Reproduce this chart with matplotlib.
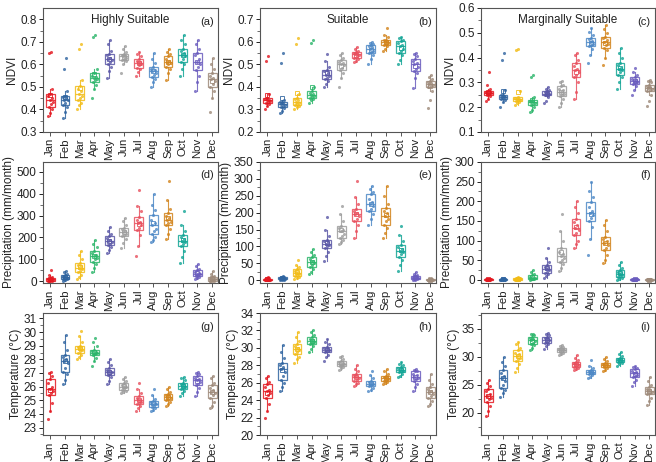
import numpy as np
import matplotlib
matplotlib.use("Agg")
import matplotlib.pyplot as plt

plt.rcParams['font.family'] = ['Liberation Sans', 'DejaVu Sans']

months = ['Jan', 'Feb', 'Mar', 'Apr', 'May', 'Jun', 'Jul', 'Aug', 'Sep', 'Oct', 'Nov', 'Dec']
colors = ['#e3171f', '#2f64a0', '#f2bc16', '#2bb56a', '#5a57a6', '#9d9d9d',
          '#e8505e', '#4d88c6', '#d2841c', '#13a596', '#6a5cbe', '#9e8a7a']

titles = ['Highly Suitable', 'Suitable', 'Marginally Suitable']
letters = ['(a)', '(b)', '(c)', '(d)', '(e)', '(f)', '(g)', '(h)', '(i)']
ylabels = ['NDVI', 'NDVI', 'NDVI',
           'Precipitation (mm/month)', 'Precipitation (m/month)', 'Precipitation (mm/month)',
           'Temperature (°C)', 'Temperature (°C)', 'Temperature (°C)']

ndvi_hs = [
    [0.37, 0.385, 0.40, 0.41, 0.425, 0.435, 0.44, 0.45, 0.46, 0.47, 0.49, 0.65, 0.655],
    [0.36, 0.39, 0.41, 0.42, 0.43, 0.44, 0.44, 0.45, 0.455, 0.46, 0.48, 0.58, 0.63],
    [0.40, 0.42, 0.43, 0.44, 0.45, 0.46, 0.47, 0.48, 0.49, 0.505, 0.53, 0.67, 0.69],
    [0.45, 0.49, 0.51, 0.52, 0.53, 0.535, 0.54, 0.545, 0.55, 0.56, 0.58, 0.72, 0.73],
    [0.54, 0.57, 0.59, 0.60, 0.61, 0.62, 0.625, 0.63, 0.64, 0.645, 0.66, 0.69, 0.71],
    [0.56, 0.60, 0.615, 0.62, 0.625, 0.63, 0.635, 0.638, 0.64, 0.645, 0.655, 0.67, 0.68],
    [0.55, 0.565, 0.58, 0.585, 0.595, 0.60, 0.605, 0.61, 0.615, 0.625, 0.635, 0.645, 0.655],
    [0.50, 0.52, 0.535, 0.545, 0.555, 0.56, 0.57, 0.575, 0.58, 0.59, 0.605, 0.625, 0.65],
    [0.53, 0.56, 0.58, 0.59, 0.60, 0.605, 0.61, 0.615, 0.625, 0.635, 0.645, 0.655, 0.67],
    [0.55, 0.58, 0.60, 0.61, 0.625, 0.635, 0.64, 0.65, 0.66, 0.67, 0.69, 0.71, 0.73],
    [0.48, 0.52, 0.55, 0.575, 0.59, 0.60, 0.61, 0.625, 0.64, 0.65, 0.67, 0.69, 0.71],
    [0.39, 0.45, 0.48, 0.50, 0.515, 0.525, 0.535, 0.54, 0.55, 0.56, 0.58, 0.60, 0.63],
]
ndvi_s = [
    [0.30, 0.315, 0.325, 0.33, 0.335, 0.338, 0.34, 0.343, 0.347, 0.35, 0.37, 0.515, 0.535],
    [0.285, 0.295, 0.305, 0.31, 0.315, 0.32, 0.325, 0.328, 0.332, 0.335, 0.34, 0.505, 0.55],
    [0.30, 0.31, 0.315, 0.32, 0.325, 0.33, 0.335, 0.34, 0.345, 0.35, 0.37, 0.59, 0.615],
    [0.33, 0.34, 0.345, 0.35, 0.355, 0.36, 0.365, 0.37, 0.375, 0.38, 0.40, 0.595, 0.61],
    [0.40, 0.415, 0.425, 0.435, 0.44, 0.45, 0.455, 0.46, 0.47, 0.475, 0.49, 0.515, 0.545],
    [0.40, 0.44, 0.46, 0.475, 0.485, 0.495, 0.50, 0.505, 0.51, 0.52, 0.53, 0.54, 0.55],
    [0.51, 0.515, 0.525, 0.53, 0.535, 0.54, 0.545, 0.548, 0.55, 0.555, 0.56, 0.57, 0.575],
    [0.50, 0.525, 0.54, 0.55, 0.555, 0.56, 0.57, 0.575, 0.58, 0.585, 0.59, 0.595, 0.60],
    [0.56, 0.57, 0.58, 0.585, 0.59, 0.595, 0.60, 0.603, 0.607, 0.61, 0.62, 0.63, 0.66],
    [0.50, 0.52, 0.54, 0.55, 0.56, 0.57, 0.58, 0.585, 0.595, 0.605, 0.61, 0.615, 0.62],
    [0.395, 0.44, 0.46, 0.47, 0.48, 0.49, 0.50, 0.505, 0.515, 0.525, 0.535, 0.545, 0.55],
    [0.305, 0.34, 0.38, 0.40, 0.405, 0.41, 0.415, 0.418, 0.42, 0.425, 0.435, 0.445, 0.455],
]
ndvi_ms = [
    [0.225, 0.235, 0.245, 0.25, 0.253, 0.256, 0.258, 0.26, 0.263, 0.265, 0.275, 0.29, 0.34],
    [0.20, 0.22, 0.23, 0.235, 0.238, 0.24, 0.243, 0.245, 0.248, 0.25, 0.27, 0.39, 0.42],
    [0.21, 0.215, 0.22, 0.225, 0.228, 0.23, 0.233, 0.235, 0.238, 0.24, 0.265, 0.43, 0.435],
    [0.18, 0.19, 0.20, 0.21, 0.213, 0.217, 0.22, 0.223, 0.227, 0.23, 0.24, 0.32, 0.33],
    [0.215, 0.225, 0.24, 0.25, 0.252, 0.254, 0.255, 0.258, 0.262, 0.265, 0.27, 0.275, 0.28],
    [0.20, 0.215, 0.235, 0.245, 0.25, 0.255, 0.262, 0.268, 0.275, 0.285, 0.29, 0.30, 0.305],
    [0.235, 0.26, 0.30, 0.32, 0.33, 0.34, 0.35, 0.355, 0.365, 0.38, 0.39, 0.41, 0.42],
    [0.38, 0.41, 0.435, 0.445, 0.45, 0.455, 0.463, 0.468, 0.475, 0.48, 0.49, 0.505, 0.52],
    [0.37, 0.40, 0.43, 0.44, 0.45, 0.455, 0.462, 0.47, 0.478, 0.485, 0.50, 0.515, 0.53],
    [0.275, 0.30, 0.32, 0.33, 0.34, 0.35, 0.355, 0.36, 0.37, 0.38, 0.40, 0.42, 0.44],
    [0.25, 0.27, 0.285, 0.295, 0.30, 0.303, 0.307, 0.31, 0.315, 0.32, 0.33, 0.34, 0.36],
    [0.205, 0.225, 0.25, 0.265, 0.27, 0.275, 0.278, 0.28, 0.285, 0.29, 0.30, 0.305, 0.31],
]
prec_hs = [
    [0, 1, 2, 2, 4, 6, 8, 10, 12, 15, 20, 30, 50],
    [0, 4, 8, 10, 13, 16, 18, 20, 24, 28, 33, 40, 48],
    [10, 20, 30, 40, 48, 55, 60, 68, 75, 85, 100, 120, 140],
    [40, 60, 80, 90, 100, 108, 115, 122, 130, 140, 155, 170, 190],
    [130, 145, 155, 165, 172, 178, 185, 190, 198, 205, 215, 230, 250],
    [150, 175, 195, 205, 212, 218, 225, 230, 238, 245, 258, 275, 290],
    [115, 160, 210, 235, 245, 255, 265, 272, 280, 295, 320, 345, 415],
    [180, 190, 200, 215, 228, 240, 255, 265, 280, 305, 325, 350, 400],
    [195, 215, 240, 255, 265, 272, 280, 288, 298, 310, 330, 370, 460],
    [85, 110, 140, 160, 170, 178, 185, 192, 200, 210, 230, 255, 320],
    [10, 15, 20, 25, 28, 32, 35, 38, 42, 50, 58, 68, 80],
    [0, 1, 2, 2, 5, 8, 10, 12, 15, 20, 25, 35, 45],
]
prec_s = [
    [0, 0, 0, 0, 1, 1, 2, 2, 3, 5, 6, 8, 10],
    [0, 1, 2, 3, 4, 5, 6, 7, 8, 9, 10, 11, 12],
    [5, 8, 10, 14, 17, 20, 22, 25, 28, 32, 38, 45, 60],
    [18, 25, 32, 38, 45, 50, 55, 58, 62, 68, 75, 85, 92],
    [58, 72, 85, 95, 100, 104, 108, 112, 116, 120, 130, 150, 188],
    [108, 112, 118, 125, 132, 138, 145, 150, 155, 160, 175, 195, 220],
    [125, 145, 165, 175, 182, 190, 195, 200, 205, 212, 225, 245, 295],
    [165, 180, 195, 205, 212, 220, 225, 232, 242, 255, 262, 270, 278],
    [125, 140, 155, 165, 175, 182, 190, 198, 205, 215, 225, 250, 280],
    [28, 45, 60, 70, 78, 83, 88, 92, 98, 105, 115, 135, 162],
    [0, 2, 3, 4, 6, 7, 8, 9, 10, 12, 15, 19, 24],
    [0, 0, 0, 0, 0, 1, 1, 2, 2, 3, 4, 6, 8],
]
prec_ms = [
    [0, 0, 0, 0, 0, 1, 1, 1, 1, 2, 2, 3, 3],
    [0, 0, 0, 0, 1, 1, 1, 2, 2, 3, 3, 4, 5],
    [0, 0, 0, 0, 1, 1, 2, 2, 3, 4, 5, 6, 7],
    [0, 1, 1, 2, 3, 4, 5, 6, 8, 12, 15, 20, 26],
    [5, 10, 14, 17, 20, 24, 28, 30, 34, 38, 45, 55, 80],
    [22, 30, 40, 45, 50, 55, 60, 65, 72, 80, 100, 125, 168],
    [80, 90, 100, 115, 120, 126, 133, 140, 148, 155, 170, 185, 202],
    [62, 105, 135, 150, 158, 165, 170, 175, 185, 197, 210, 225, 248],
    [42, 50, 62, 75, 82, 88, 93, 98, 104, 110, 125, 140, 152],
    [0, 3, 5, 8, 10, 12, 15, 17, 20, 24, 30, 38, 45],
    [0, 0, 0, 0, 0, 1, 1, 1, 1, 2, 2, 3, 3],
    [0, 0, 0, 0, 0, 0, 0, 1, 1, 1, 1, 2, 2],
]
temp_hs = [
    [23.6, 24.2, 24.8, 25.4, 25.55, 25.7, 25.8, 26.0, 26.3, 26.55, 26.8, 27.0, 27.1],
    [26.2, 26.5, 26.9, 27.1, 27.4, 27.7, 27.9, 28.05, 28.2, 28.35, 28.7, 29.3, 29.8],
    [28.0, 28.2, 28.35, 28.5, 28.6, 28.7, 28.75, 28.8, 28.9, 29.0, 29.3, 29.7, 30.1],
    [27.5, 27.9, 28.1, 28.3, 28.38, 28.45, 28.5, 28.55, 28.62, 28.7, 29.0, 29.3, 29.6],
    [26.2, 26.4, 26.7, 26.85, 26.95, 27.05, 27.1, 27.15, 27.25, 27.35, 27.6, 27.8, 28.0],
    [25.5, 25.6, 25.7, 25.75, 25.85, 25.95, 26.0, 26.05, 26.15, 26.25, 26.4, 26.55, 26.7],
    [24.2, 24.4, 24.55, 24.7, 24.8, 24.9, 25.0, 25.05, 25.15, 25.3, 25.5, 25.8, 26.3],
    [24.2, 24.3, 24.4, 24.5, 24.6, 24.7, 24.75, 24.8, 24.85, 24.95, 25.1, 25.4, 25.85],
    [24.6, 24.75, 24.9, 25.0, 25.1, 25.2, 25.25, 25.3, 25.38, 25.45, 25.6, 25.8, 26.0],
    [25.3, 25.5, 25.7, 25.85, 25.95, 26.0, 26.05, 26.1, 26.2, 26.3, 26.45, 26.6, 26.7],
    [25.3, 25.6, 25.9, 26.1, 26.2, 26.35, 26.45, 26.55, 26.65, 26.8, 26.9, 27.0, 27.1],
    [24.4, 24.6, 24.9, 25.2, 25.35, 25.5, 25.6, 25.75, 25.9, 26.1, 26.3, 26.6, 26.8],
]
temp_s = [
    [22.0, 22.7, 23.5, 24.3, 24.6, 24.8, 25.0, 25.2, 25.5, 25.8, 26.1, 26.5, 26.8],
    [25.0, 25.5, 26.0, 26.3, 26.8, 27.2, 27.6, 27.8, 28.0, 28.3, 28.8, 29.5, 30.3],
    [28.3, 28.7, 29.0, 29.3, 29.5, 29.7, 29.9, 30.0, 30.2, 30.4, 30.8, 31.3, 31.8],
    [29.5, 29.9, 30.2, 30.4, 30.55, 30.7, 30.8, 30.9, 31.0, 31.2, 31.5, 31.8, 32.0],
    [28.5, 28.9, 29.2, 29.5, 29.6, 29.7, 29.8, 29.9, 30.0, 30.1, 30.4, 30.7, 31.0],
    [27.5, 27.7, 27.8, 27.9, 28.0, 28.1, 28.2, 28.25, 28.35, 28.5, 28.7, 28.9, 29.1],
    [25.6, 25.8, 26.0, 26.2, 26.35, 26.5, 26.6, 26.7, 26.85, 27.0, 27.3, 27.6, 28.0],
    [25.0, 25.2, 25.4, 25.6, 25.7, 25.8, 25.9, 26.0, 26.1, 26.2, 26.5, 26.9, 27.3],
    [25.8, 25.95, 26.1, 26.2, 26.3, 26.4, 26.5, 26.55, 26.65, 26.8, 27.0, 27.3, 27.6],
    [26.6, 26.8, 27.0, 27.2, 27.3, 27.4, 27.5, 27.55, 27.65, 27.8, 28.0, 28.2, 28.4],
    [25.0, 25.5, 25.9, 26.2, 26.4, 26.55, 26.7, 26.85, 27.0, 27.3, 27.4, 27.5, 27.6],
    [23.3, 23.6, 23.9, 24.2, 24.5, 24.7, 24.9, 25.05, 25.25, 25.5, 25.8, 26.3, 27.0],
]
temp_ms = [
    [19.4, 20.3, 21.2, 21.9, 22.4, 22.7, 23.0, 23.3, 23.8, 24.3, 24.8, 25.3, 25.8],
    [22.8, 23.5, 24.0, 24.4, 25.0, 25.6, 26.1, 26.6, 27.1, 27.6, 28.3, 29.0, 30.0],
    [27.3, 28.0, 28.7, 29.2, 29.5, 29.8, 30.1, 30.4, 30.7, 31.1, 31.6, 32.2, 32.7],
    [31.2, 31.6, 32.0, 32.3, 32.5, 32.8, 33.0, 33.2, 33.4, 33.6, 33.8, 34.0, 34.1],
    [31.4, 31.9, 32.2, 32.5, 32.7, 32.9, 33.0, 33.1, 33.3, 33.5, 33.8, 34.1, 34.3],
    [30.3, 30.5, 30.7, 30.8, 30.95, 31.1, 31.2, 31.3, 31.45, 31.6, 31.75, 31.9, 32.0],
    [27.6, 27.8, 28.0, 28.2, 28.35, 28.5, 28.6, 28.7, 28.85, 29.1, 29.4, 29.8, 30.3],
    [26.1, 26.4, 26.7, 26.9, 27.0, 27.1, 27.2, 27.3, 27.45, 27.6, 27.9, 28.4, 29.4],
    [27.5, 27.7, 27.9, 28.1, 28.25, 28.4, 28.5, 28.6, 28.75, 28.9, 29.2, 29.5, 29.9],
    [28.3, 28.6, 28.8, 29.0, 29.15, 29.3, 29.4, 29.5, 29.65, 29.8, 30.1, 30.5, 30.8],
    [24.8, 25.4, 25.9, 26.3, 26.6, 26.8, 27.0, 27.2, 27.5, 27.8, 28.0, 28.2, 28.3],
    [21.4, 22.0, 22.7, 23.3, 23.5, 23.7, 23.9, 24.1, 24.3, 24.6, 25.0, 25.7, 26.3],
]

panels = [ndvi_hs, ndvi_s, ndvi_ms, prec_hs, prec_s, prec_ms, temp_hs, temp_s, temp_ms]

ylims = [(0.3, 0.85), (0.2, 0.75), (0.1, 0.6),
         (-8, 545), (-8, 350), (-8, 300),
         (22.45, 31.4), (20, 34), (16, 37.8)]
yticks = [np.arange(0.3, 0.81, 0.1), np.arange(0.2, 0.71, 0.1), np.arange(0.1, 0.61, 0.1),
          np.arange(0, 501, 100), np.arange(0, 351, 50), np.arange(0, 301, 50),
          np.arange(23, 32, 1), np.arange(20, 35, 2), np.arange(20, 36, 5)]
minor_steps = [0.05, 0.05, 0.05, 50, 25, 25, 0.5, 1, 2.5]
ytick_fmt = ['{:.1f}', '{:.1f}', '{:.1f}', '{:.0f}', '{:.0f}', '{:.0f}', '{:.0f}', '{:.0f}', '{:.0f}']

W, H = 656, 462
fig = plt.figure(figsize=(W / 100, H / 100), dpi=100)

col_x = [(43, 218), (260, 436), (481, 655)]
row_y = [(8, 132), (162, 283), (313, 435)]

spine_col = '#555555'
text_col = '#222222'

for idx in range(9):
    r, c = divmod(idx, 3)
    x0, x1 = col_x[c]
    y0, y1 = row_y[r]
    ax = fig.add_axes([x0 / W, 1 - y1 / H, (x1 - x0) / W, (y1 - y0) / H])
    data = panels[idx]
    pos = np.arange(1, 13)
    bp = ax.boxplot(data, positions=pos, widths=0.6, showfliers=False, patch_artist=True,
                    showmeans=True, whis=1.5, zorder=2)
    for i in range(12):
        col = colors[i]
        bp['boxes'][i].set(facecolor='none', edgecolor=col, linewidth=0.9, alpha=0.85)
        bp['medians'][i].set(color=col, linewidth=0.9, alpha=0.85)
        bp['means'][i].set(marker='s', markersize=2.5, markerfacecolor='none',
                           markeredgecolor=col, markeredgewidth=0.7, alpha=0.85)
        for w in bp['whiskers'][2 * i:2 * i + 2]:
            w.set(color=col, linewidth=0.8, alpha=0.85)
        for cp in bp['caps'][2 * i:2 * i + 2]:
            cp.set(color=col, linewidth=0.0)
        vals = np.asarray(data[i], dtype=float)
        n = len(vals)
        offs = np.linspace(-0.17, 0.17, n)[(np.arange(n) * 5) % n]
        ax.scatter(pos[i] + offs, vals, s=5, color=col, alpha=0.8, linewidths=0, zorder=3)

    ax.set_xlim(0.5, 12.4)
    ax.set_yticks(yticks[idx])
    ax.set_yticklabels([ytick_fmt[idx].format(v) for v in yticks[idx]])
    ax.set_yticks(np.arange(ylims[idx][0] - (ylims[idx][0] % minor_steps[idx]),
                            ylims[idx][1], minor_steps[idx]), minor=True)
    ax.set_ylim(*ylims[idx])
    ax.set_xticks(pos)
    ax.set_xticklabels(months, rotation=90, fontsize=8.2, color=text_col)
    ax.tick_params(axis='y', labelsize=8.5, colors=text_col, direction='out', length=3,
                   width=0.7, pad=1.5)
    ax.tick_params(axis='y', which='minor', direction='out', length=2, width=0.6, color=spine_col)
    ax.tick_params(axis='x', direction='out', length=3, width=0.7, color=spine_col, pad=1.5)
    for s in ax.spines.values():
        s.set_color(spine_col)
        s.set_linewidth(0.8)
    ax.set_ylabel(ylabels[idx], fontsize=8.5, color=text_col, labelpad=1.5)
    ax.text(0.975, 0.93, letters[idx], transform=ax.transAxes, ha='right', va='top',
            fontsize=8, color=text_col)
    if r == 0:
        ax.text(0.5, 0.95, titles[c], transform=ax.transAxes, ha='center', va='top',
                fontsize=8.5, color=text_col)

fig.savefig('out.png', dpi=100)
